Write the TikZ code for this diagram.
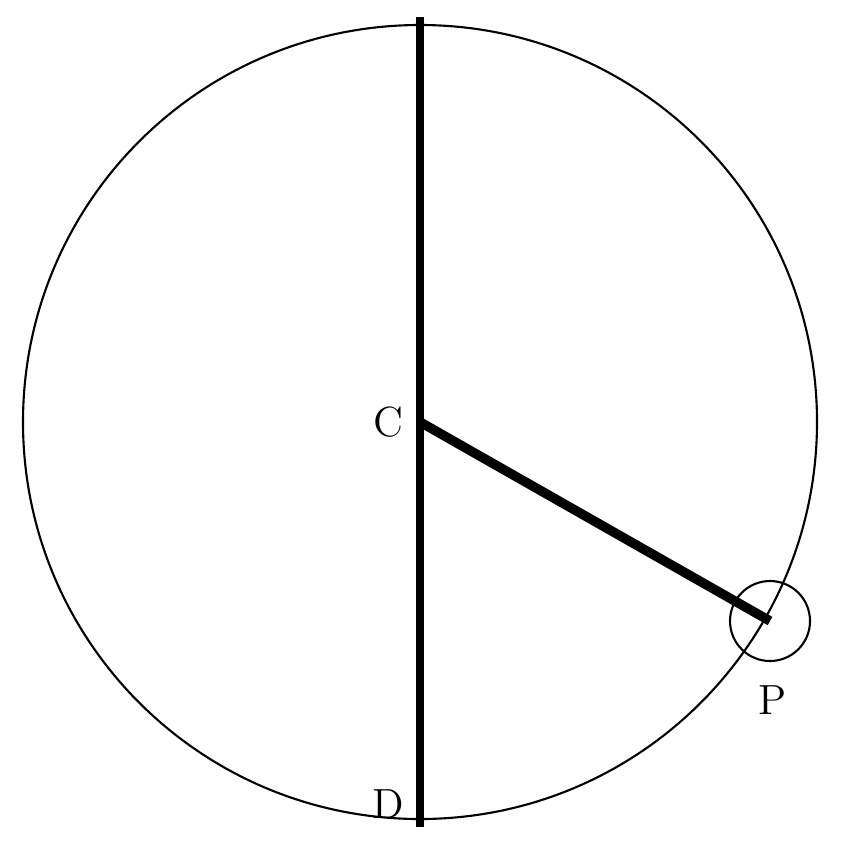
\documentclass[tikz,border=0pt]{standalone}
\usepackage{tikz}
\usetikzlibrary{positioning}
\tikzset{lbl/.style={font=\large,inner sep=0pt},
  thin circ/.style={draw,line width=0.6pt}}

\begin{document}
\begin{tikzpicture}
    \useasboundingbox (0,0) rectangle (8.5,8.42);
    \coordinate (c) at (4.2,4.2);
    \coordinate (top) at (4.2,8.25);
    \coordinate (bot) at (4.2,0.15);
    \coordinate (p) at (7.7,2.21);

    \node[lbl] (lc) at (3.88,4.2) {C};
    \node[lbl] (lp) at (7.73,1.42) {P};
    \node[lbl] (ld) at (3.88,0.38) {D};

    \draw [thin circ] (c) circle (3.97);
    \draw [thin circ] (p) circle (0.4);
    \draw [line width=2pt] (top) -- (bot);
    \draw [line width=2.7pt] (c) -- (p);
\end{tikzpicture}
\end{document}
